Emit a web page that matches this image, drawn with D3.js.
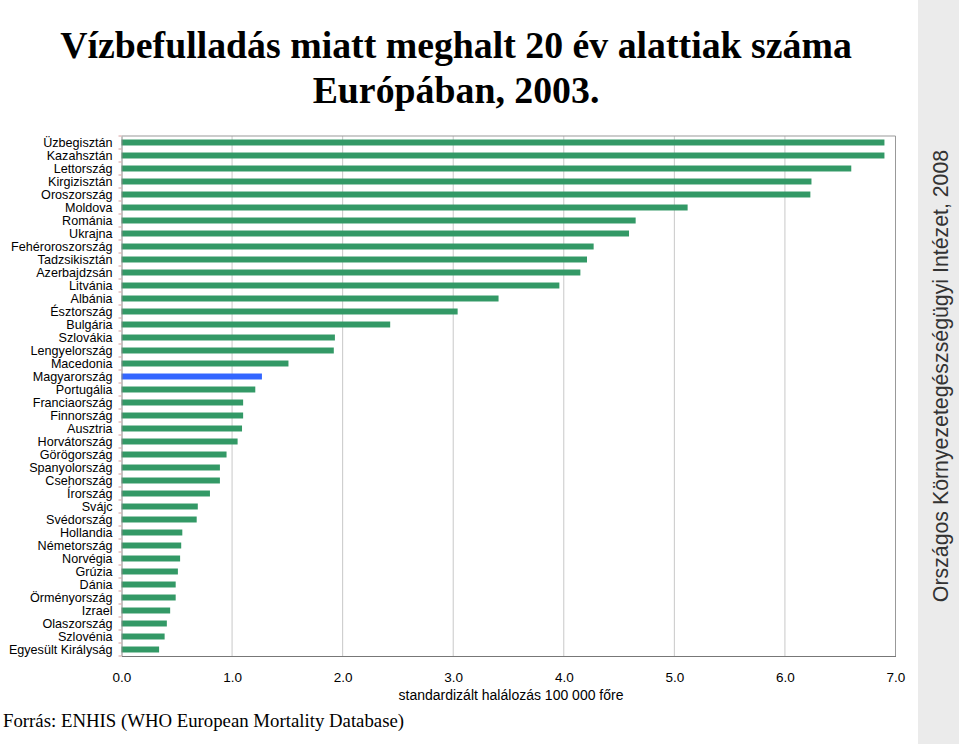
<!DOCTYPE html>
<html><head><meta charset="utf-8">
<script src="https://cdn.jsdelivr.net/npm/d3@7"></script>
<style>body{margin:0;background:#fff;}svg{display:block;}</style>
</head><body>
<script>
const countries = ["Üzbegisztán","Kazahsztán","Lettország","Kirgizisztán","Oroszország","Moldova","Románia","Ukrajna","Fehéroroszország","Tadzsikisztán","Azerbajdzsán","Litvánia","Albánia","Észtország","Bulgária","Szlovákia","Lengyelország","Macedonia","Magyarország","Portugália","Franciaország","Finnország","Ausztria","Horvátország","Görögország","Spanyolország","Csehország","Írország","Svájc","Svédország","Hollandia","Németország","Norvégia","Grúzia","Dánia","Örményország","Izrael","Olaszország","Szlovénia","Egyesült Királyság"];
const values = [6.90,6.90,6.60,6.24,6.23,5.12,4.65,4.59,4.27,4.21,4.15,3.96,3.41,3.04,2.43,1.93,1.92,1.51,1.27,1.21,1.10,1.10,1.09,1.05,0.95,0.89,0.89,0.80,0.69,0.68,0.55,0.54,0.53,0.51,0.49,0.49,0.44,0.41,0.39,0.34];
const highlight = "Magyarország";
const xTicks = [0,1,2,3,4,5,6,7];
const titleLines = ["Vízbefulladás miatt meghalt 20 év alattiak száma","Európában, 2003."];
const xTitle = "standardizált halálozás 100 000 főre";
const source = "Forrás: ENHIS (WHO European Mortality Database)";
const sideText = "Országos Környezetegészségügyi Intézet, 2008";

(function(){
const W=959,H=744;
const svg=d3.select("body").append("svg").attr("width",W).attr("height",H);
const pL=121.5,pR=895.5,pT=136,pB=656;
const x=d3.scaleLinear().domain([0,7]).range([pL,pR]);
const y=d3.scaleBand().domain(countries).range([pT,pB]).paddingInner(0.54).paddingOuter(0.27);

svg.append("rect").attr("x",918).attr("y",0).attr("width",41).attr("height",H).attr("fill","#ebebeb");
svg.append("text").attr("transform","translate(948,376) rotate(-90)").attr("text-anchor","middle")
  .attr("font-family","Liberation Sans, Arial").attr("font-size",21.3).attr("fill","#333").text(sideText);

svg.selectAll("text.title").data(titleLines).enter().append("text").attr("class","title")
  .attr("x",456).attr("y",(d,i)=>58+i*45).attr("text-anchor","middle")
  .attr("font-family","Liberation Serif, Times New Roman").attr("font-weight","bold").attr("font-size",37.8).attr("fill","#000").text(d=>d);

svg.selectAll("line.grid").data(xTicks.slice(1)).enter().append("line")
  .attr("x1",d=>x(d)).attr("x2",d=>x(d)).attr("y1",pT).attr("y2",pB)
  .attr("stroke","#c8c8c8").attr("stroke-width",1);
svg.append("path").attr("d",`M${pL},${pT}H${pR}V${pB}`).attr("fill","none").attr("stroke","#999").attr("stroke-width",1);

svg.selectAll("rect.bar").data(countries).enter().append("rect")
  .attr("x",x(0)).attr("y",d=>y(d)).attr("height",y.bandwidth())
  .attr("width",(d,i)=>x(values[i])-x(0))
  .attr("fill",d=>d===highlight?"#3366ff":"#339966");

const yAxis=d3.axisLeft(y).tickSize(0).tickPadding(9);
const gy=svg.append("g").attr("transform",`translate(${pL},0)`).call(yAxis);
gy.attr("font-size",null).attr("font-family",null);
gy.select(".domain").attr("stroke","#888");
gy.selectAll("text").attr("font-family","Liberation Sans, Arial").attr("font-size",12.6).attr("fill","#000");
const bounds=d3.range(countries.length+1).map(i=>pT+i*(pB-pT)/countries.length);
svg.selectAll("line.ct").data(bounds).enter().append("line")
  .attr("x1",pL-3).attr("x2",pL).attr("y1",d=>d).attr("y2",d=>d).attr("stroke","#d8a0a0");

const xAxis=d3.axisBottom(x).tickValues(xTicks).tickFormat(d3.format(".1f")).tickSize(0).tickPadding(16);
const gx=svg.append("g").attr("transform",`translate(0,${pB})`).call(xAxis);
gx.attr("font-size",null).attr("font-family",null);
gx.select(".domain").attr("stroke","#777");
gx.selectAll("text").attr("font-family","Liberation Sans, Arial").attr("font-size",13.5).attr("fill","#000");

svg.append("text").attr("x",511).attr("y",700).attr("text-anchor","middle")
  .attr("font-family","Liberation Sans, Arial").attr("font-size",14).attr("fill","#000").text(xTitle);

svg.append("text").attr("x",3).attr("y",727)
  .attr("font-family","Liberation Serif, Times New Roman").attr("font-size",18.8).attr("fill","#000").text(source);
})();
</script>
</body></html>
